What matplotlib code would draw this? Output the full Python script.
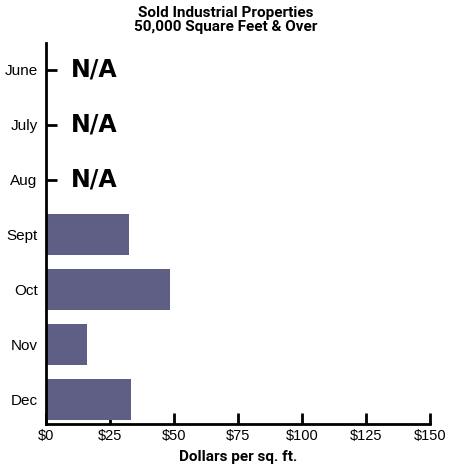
import matplotlib.pyplot as plt

months = ['June', 'July', 'Aug', 'Sept', 'Oct', 'Nov', 'Dec']
dollars = [0.4, 0.4, 0.4, 32.3, 48.3, 16.0, 33.2]
na_months = ['June', 'July', 'Aug']
xticks = [0, 25, 50, 75, 100, 125, 150]
xlabels = ['$0', '$25', '$50', '$75', '$100', '$125', '$150']

bar_color = '#5f5e85'
narrow = ['Roboto', 'Liberation Sans', 'DejaVu Sans']

fig = plt.figure(figsize=(4.51, 4.70), dpi=100)
ax = fig.add_axes([0.102, 0.098, 0.851, 0.811])
ax.set_axisbelow(True)

pos = list(range(len(months)))
ax.barh(pos, dollars, height=0.74, color=bar_color, zorder=2)

for m in na_months:
    i = months.index(m)
    ax.text(9.8, i, 'N/A', fontsize=17, fontweight='heavy', va='center', ha='left',
            family=['DejaVu Sans'])

ax.set_xlim(0, 150)
ax.set_ylim(6.45, -0.49)
ax.set_yticks(pos)
ax.set_yticklabels(months, family=['Liberation Sans'], fontsize=11)
ax.set_xticks(xticks)
ax.set_xticklabels(xlabels, family=['Liberation Sans'], fontsize=10.5)

for s in ['top', 'right']:
    ax.spines[s].set_visible(False)
for s in ['left', 'bottom']:
    ax.spines[s].set_linewidth(2)
    ax.spines[s].set_color('black')
ax.tick_params(direction='in', length=8, width=2, pad=4)
ax.tick_params(axis='y', pad=6)

ax.set_xlabel('Dollars per sq. ft.', family=narrow, fontweight='bold', fontsize=11, labelpad=5)
fig.text(0.5, 0.988, 'Sold Industrial Properties\n50,000 Square Feet & Over', ha='center', va='top',
         family=narrow, fontweight='bold', fontsize=11, linespacing=1.0)

fig.savefig('out.png', dpi=100)
